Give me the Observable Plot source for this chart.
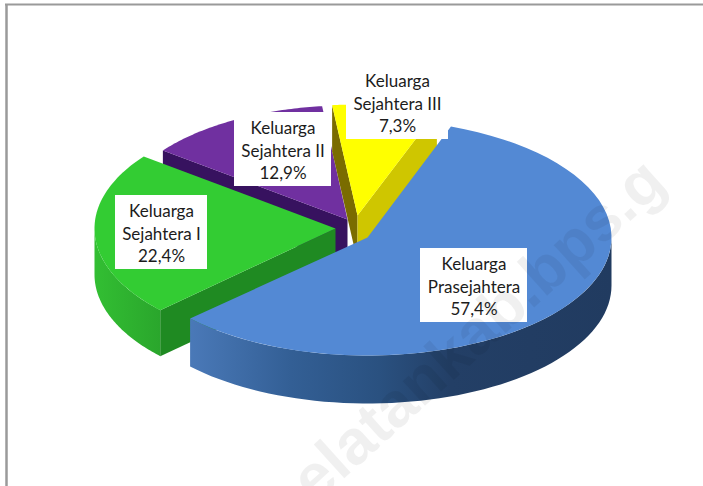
<!DOCTYPE html>
<html>
<head>
<meta charset="utf-8">
<script src="https://cdn.jsdelivr.net/npm/d3@7"></script>
<script src="https://cdn.jsdelivr.net/npm/@observablehq/plot@0.6"></script>
<style>html,body{margin:0;padding:0;background:#fff}svg{display:block}</style>
</head>
<body>
<div id="chart"></div>
<script>
const categories = ["Keluarga\nPrasejahtera", "Keluarga\nSejahtera I", "Keluarga\nSejahtera II", "Keluarga\nSejahtera III"];
const shares = [57.4, 22.4, 12.9, 7.3];
const shareLabels = ["57,4%", "22,4%", "12,9%", "7,3%"];

// layout only
const W = 703, H = 486;
const startDeg = 20;
const centers = [[367, 237], [335, 228], [347, 219], [357, 215]];
const radii = [[244, 118], [241, 119], [232, 114], [232, 111]];
const depths = [48, 46, 46, 46];
const topFill = ["#5389d4", "#33cc33", "#7030a0", "#ffff00"];
const boxes = [[420, 527, 248, 322], [115, 207, 195, 269], [234, 331, 112, 186], [346, 448, 65, 139]];

const arcs = d3.pie().sort(null).startAngle(startDeg * Math.PI / 180).endAngle((startDeg + 360) * Math.PI / 180)(shares);
const pt = (i, a, dz = 0) => ({x: centers[i][0] + radii[i][0] * Math.sin(a), y: centers[i][1] - radii[i][1] * Math.cos(a) + dz});
const arcPts = (i, a0, a1, dz = 0) => d3.range(61).map(k => pt(i, a0 + (a1 - a0) * k / 60, dz));
const apex = (i, dz = 0) => ({x: centers[i][0], y: centers[i][1] + dz});
const poly = (points, fill) => Plot.line(points, {x: "x", y: "y", curve: "linear-closed", fill, stroke: "none"});

const topFace = i => poly([apex(i), ...arcPts(i, arcs[i].startAngle, arcs[i].endAngle)], topFill[i]);
const cutWall = (i, a, fill) => poly([apex(i), pt(i, a), pt(i, a, depths[i]), apex(i, depths[i])], fill);
const rimWall = (i, a0, a1, fill) => poly([...arcPts(i, a0, a1), ...arcPts(i, a1, a0, depths[i])], fill);

const rows = categories.map((c, i) => ({
  text: c + "\n" + shareLabels[i], x1: boxes[i][0], x2: boxes[i][1], y1: boxes[i][2], y2: boxes[i][3]
}));

const q = Math.PI / 2;
const svg = Plot.plot({
  width: W, height: H, margin: 0,
  x: {domain: [0, W], range: [0, W], axis: null},
  y: {domain: [0, H], range: [0, H], axis: null},
  marks: [
    Plot.ruleX([6], {y1: 4, y2: H, stroke: "#9a9a9a", strokeWidth: 2.5}),
    Plot.ruleY([4], {x1: 5, x2: W, stroke: "#9a9a9a", strokeWidth: 2}),
    // Sejahtera II
    cutWall(2, arcs[2].startAngle, "#37125f"),
    topFace(2),
    // Sejahtera III
    cutWall(3, arcs[3].startAngle, "#7a6c00"),
    cutWall(3, arcs[3].endAngle, "#cfc600"),
    topFace(3),
    // Sejahtera I
    rimWall(1, arcs[1].startAngle, 3 * q, "url(#greenRim)"),
    cutWall(1, arcs[1].startAngle, "#1f8a22"),
    topFace(1),
    // Prasejahtera
    rimWall(0, q, arcs[0].endAngle, "url(#blueRim)"),
    topFace(0),
    // labels
    Plot.rect(rows, {x1: "x1", x2: "x2", y1: "y1", y2: "y2", fill: "white"}),
    Plot.text(rows, {
      x: d => (d.x1 + d.x2) / 2, y: d => (d.y1 + d.y2) / 2, text: "text",
      fontFamily: "Lato", fontSize: 17, lineHeight: 1.3, fill: "#1c1c1c"
    }),
    // watermark
    Plot.text(["elatankab.bps.g"], {
      x: () => 478, y: () => 330, text: d => d, rotate: -42,
      fontFamily: "Liberation Sans", fontWeight: "bold", fontSize: 63, fill: "#000", fillOpacity: 0.06
    })
  ]
});

const defs = d3.select(svg).append("defs");
const gradient = (id, x1, x2, stops) => {
  const g = defs.append("linearGradient").attr("id", id).attr("gradientUnits", "userSpaceOnUse")
    .attr("x1", x1).attr("x2", x2).attr("y1", 0).attr("y2", 0);
  stops.forEach(([o, c]) => g.append("stop").attr("offset", o).attr("stop-color", c));
};
gradient("blueRim", 189, 611, [[0, "#4a79b8"], [0.24, "#335f95"], [0.45, "#2a5180"], [0.62, "#233f66"], [1, "#213b60"]]);
gradient("greenRim", 90, 160, [[0, "#33c033"], [1, "#2aa62c"]]);

document.getElementById("chart").append(svg);
</script>
</body>
</html>
